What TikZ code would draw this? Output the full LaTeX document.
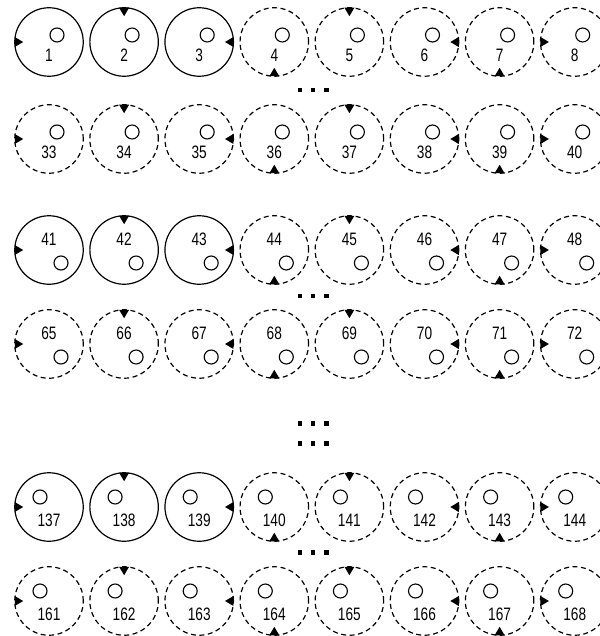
\documentclass[tikz,border=0pt]{standalone}
\usepackage{fontspec}
\setmainfont{Liberation Sans}[FakeStretch=0.76]
\usetikzlibrary{calc}
\begin{document}
\begin{tikzpicture}[x=1pt,y=-1pt,
  ring/.style={circle, draw, line width=1.2pt, minimum size=68.5pt, inner sep=0pt},
  dashring/.style={dash pattern=on 5pt off 3.5pt},
  hole/.style={circle, draw, line width=1.1pt, minimum size=14pt, inner sep=0pt},
  lbl/.style={inner sep=0pt, font=\fontsize{18}{20}\selectfont},
  tri/.style={fill=black},
  dotsq/.style={rectangle, fill=black, minimum size=4.3pt, inner sep=0pt}]
\useasboundingbox (0,0) rectangle (599,636);
\foreach \Y/\S/\hx/\hy/\ly/\sol in {42/1/8/-7/13/1, 139/33/8/-7/13/0, 250/41/12/13/-11/1, 344/65/12/13/-11/0, 507/137/-9/-10/13/1, 601/161/-9/-10/13/0} {
  \foreach \a [count=\c] in {180,90,0,270,90,0,270,180} {
    \pgfmathtruncatemacro\n{\S+\c-1}
    \pgfmathsetmacro\X{49+(\c-1)*75.1}
    \pgfmathtruncatemacro\sd{and(\sol==1,\c<4)}
    \ifnum\sd=1
      \node[ring] (c\n) at (\X,\Y) {};
    \else
      \node[ring,dashring] (c\n) at (\X,\Y) {};
    \fi
    \node[hole] (h\n) at ($(c\n)+(\hx,\hy)$) {};
    \node[lbl] (t\n) at ($(c\n)+(0,\ly)$) {\n};
    \fill[tri, shift={(c\n.center)}, rotate=\a] (34.25,5) -- (34.25,-5) -- (25.8,0) -- cycle;
  }
}
\foreach \D/\yy in {a/90, b/296, c/423.5, d/443.5, e/552.5} {
  \foreach \xx [count=\k] in {300,313.3,326.6}
    \node[dotsq] (d\D\k) at (\xx,\yy) {};
}
\end{tikzpicture}
\end{document}
